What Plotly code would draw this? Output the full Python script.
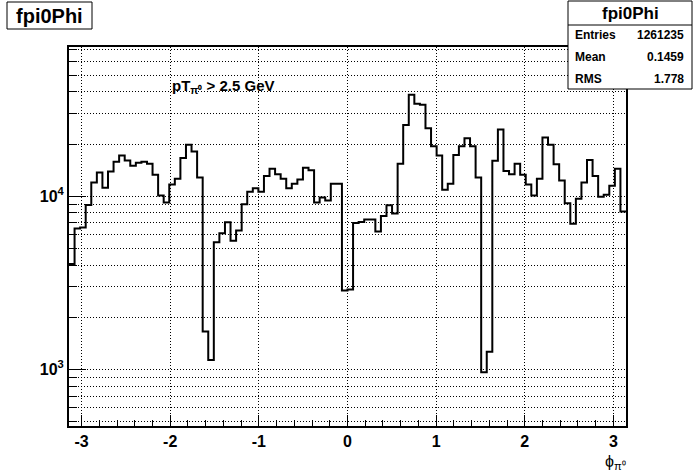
import numpy as np
import plotly.graph_objects as go

# ---------------- data ----------------
hist_name = "fpi0Phi"
counts = [4050, 6500, 6600, 8900, 12000, 13700, 11200, 13900, 15800, 17200,
          16100, 15000, 15600, 15800, 15400, 13300, 10100, 9200, 11700, 12600,
          16600, 19800, 18100, 12800, 1650, 1130, 5420, 6110, 7080, 5520,
          6330, 8990, 10600, 11100, 10600, 13100, 14400, 13400, 12600, 11100,
          11800, 12500, 14600, 14100, 9180, 9820, 9430, 11800, 11800, 2850,
          2890, 7010, 7100, 7320, 7320, 6240, 7690, 8870, 7930, 15400,
          25800, 38500, 34200, 33700, 24700, 19400, 17200, 10900, 11800, 17300,
          19400, 21600, 19400, 12800, 961, 1260, 16000, 24300, 14000, 13400,
          15400, 13300, 11700, 10100, 12600, 21800, 19800, 15300, 12300, 9110,
          6940, 9650, 12000, 16200, 13100, 9910, 10200, 11500, 14400, 8150]
x_min, x_max = -np.pi, np.pi
stats_labels = ["Entries", "Mean", "RMS"]
stats_values = ["1261235", "0.1459", "1.778"]
x_tick_vals = [-3, -2, -1, 0, 1, 2, 3]
x_tick_text = ["-3", "-2", "-1", "0", "1", "2", "3"]
y_tick_vals = [1000, 10000]
y_tick_text = ["10<sup>3</sup>", "10<sup>4</sup>"]
y_minor_vals = [500, 600, 700, 800, 900,
                2000, 3000, 4000, 5000, 6000, 7000, 8000, 9000,
                20000, 30000, 40000, 50000, 60000, 70000]
cut_label = "pT<sub>π⁰</sub> > 2.5 GeV"
x_title = "ϕ<sub>π⁰</sub>"

# ---------------- figure ----------------
W, H = 696, 474
ML, MR, MT, MB = 69, 70, 47, 48
PW, PH = W - ML - MR, H - MT - MB


def px(x):
    return (x - ML) / PW


def py(y):
    return (H - MB - y) / PH


n_bins = len(counts)
edges = np.linspace(x_min, x_max, n_bins + 1)
ys = list(counts) + [counts[-1]]

FONT = "Liberation Sans"
dash = "1px,2px"

fig = go.Figure(go.Scatter(
    x=edges, y=ys, mode="lines",
    line=dict(shape="hv", color="black", width=2),
    hoverinfo="skip", showlegend=False))

fig.update_layout(
    width=W, height=H,
    margin=dict(l=ML, r=MR, t=MT, b=MB, pad=0),
    paper_bgcolor="white", plot_bgcolor="white",
    showlegend=False,
    font=dict(family=FONT, color="black"),
    xaxis=dict(
        range=[x_min, x_max], tickmode="array", tickvals=x_tick_vals, ticktext=x_tick_text,
        ticks="inside", ticklen=11, tickwidth=1, tickcolor="black",
        tickfont=dict(family=FONT, size=16, weight="bold"),
        showgrid=True, gridcolor="black", gridwidth=1, griddash=dash,
        showline=True, linecolor="black", linewidth=2, mirror=True,
        zeroline=False,
        minor=dict(tick0=0, dtick=0.2, ticks="inside", ticklen=6, tickcolor="black",
                   tickwidth=1, showgrid=False),
    ),
    yaxis=dict(
        type="log", range=[2.672, 4.862],
        tickmode="array", tickvals=y_tick_vals, ticktext=y_tick_text,
        ticks="inside", ticklen=17, tickwidth=1, tickcolor="black",
        tickfont=dict(family=FONT, size=16, weight="bold"),
        showgrid=True, gridcolor="black", gridwidth=1, griddash=dash,
        showline=True, linecolor="black", linewidth=2, mirror=True,
        zeroline=False,
        minor=dict(tickmode="array", tickvals=y_minor_vals, ticks="inside", ticklen=8,
                   tickcolor="black", tickwidth=1,
                   showgrid=True, gridcolor="black", gridwidth=1, griddash=dash),
    ),
)

shapes = []
annotations = []

# title box
shapes.append(dict(type="rect", xref="paper", yref="paper",
                   x0=px(7), x1=px(92), y0=py(29), y1=py(2),
                   line=dict(color="black", width=1), fillcolor="white", layer="above"))
annotations.append(dict(xref="paper", yref="paper", x=px(49.5), y=py(16),
                        xanchor="center", yanchor="middle", showarrow=False,
                        text=hist_name, font=dict(family=FONT, size=20, weight="bold")))

# stats box
shapes.append(dict(type="rect", xref="paper", yref="paper",
                   x0=px(568), x1=px(692), y0=py(89), y1=py(1),
                   line=dict(color="black", width=1), fillcolor="white", layer="above"))
shapes.append(dict(type="line", xref="paper", yref="paper",
                   x0=px(568), x1=px(692), y0=py(25), y1=py(25),
                   line=dict(color="black", width=1), layer="above"))
annotations.append(dict(xref="paper", yref="paper", x=px(630), y=py(13),
                        xanchor="center", yanchor="middle", showarrow=False,
                        text=hist_name, font=dict(family=FONT, size=17, weight="bold")))
row_y = [35.5, 57, 78.5]
for lab, val, yy in zip(stats_labels, stats_values, row_y):
    annotations.append(dict(xref="paper", yref="paper", x=px(573), y=py(yy),
                            xanchor="left", yanchor="middle", showarrow=False,
                            text=lab, font=dict(family=FONT, size=12, weight="bold")))
    annotations.append(dict(xref="paper", yref="paper", x=px(686), y=py(yy),
                            xanchor="right", yanchor="middle", showarrow=False,
                            text=val, font=dict(family=FONT, size=12, weight="bold")))

# cut label
annotations.append(dict(xref="paper", yref="paper", x=px(170), y=py(86),
                        xanchor="left", yanchor="middle", showarrow=False,
                        text=cut_label, font=dict(family=FONT, size=15, weight="bold")))

# x axis title
annotations.append(dict(xref="paper", yref="paper", x=px(628), y=py(462),
                        xanchor="right", yanchor="middle", showarrow=False,
                        text=x_title, font=dict(family=FONT, size=16)))

fig.update_layout(shapes=shapes, annotations=annotations)
fig.write_html("out.html",
               config={"displayModeBar": False},
               post_script="document.body.style.margin='0px';document.body.style.padding='0px';")
